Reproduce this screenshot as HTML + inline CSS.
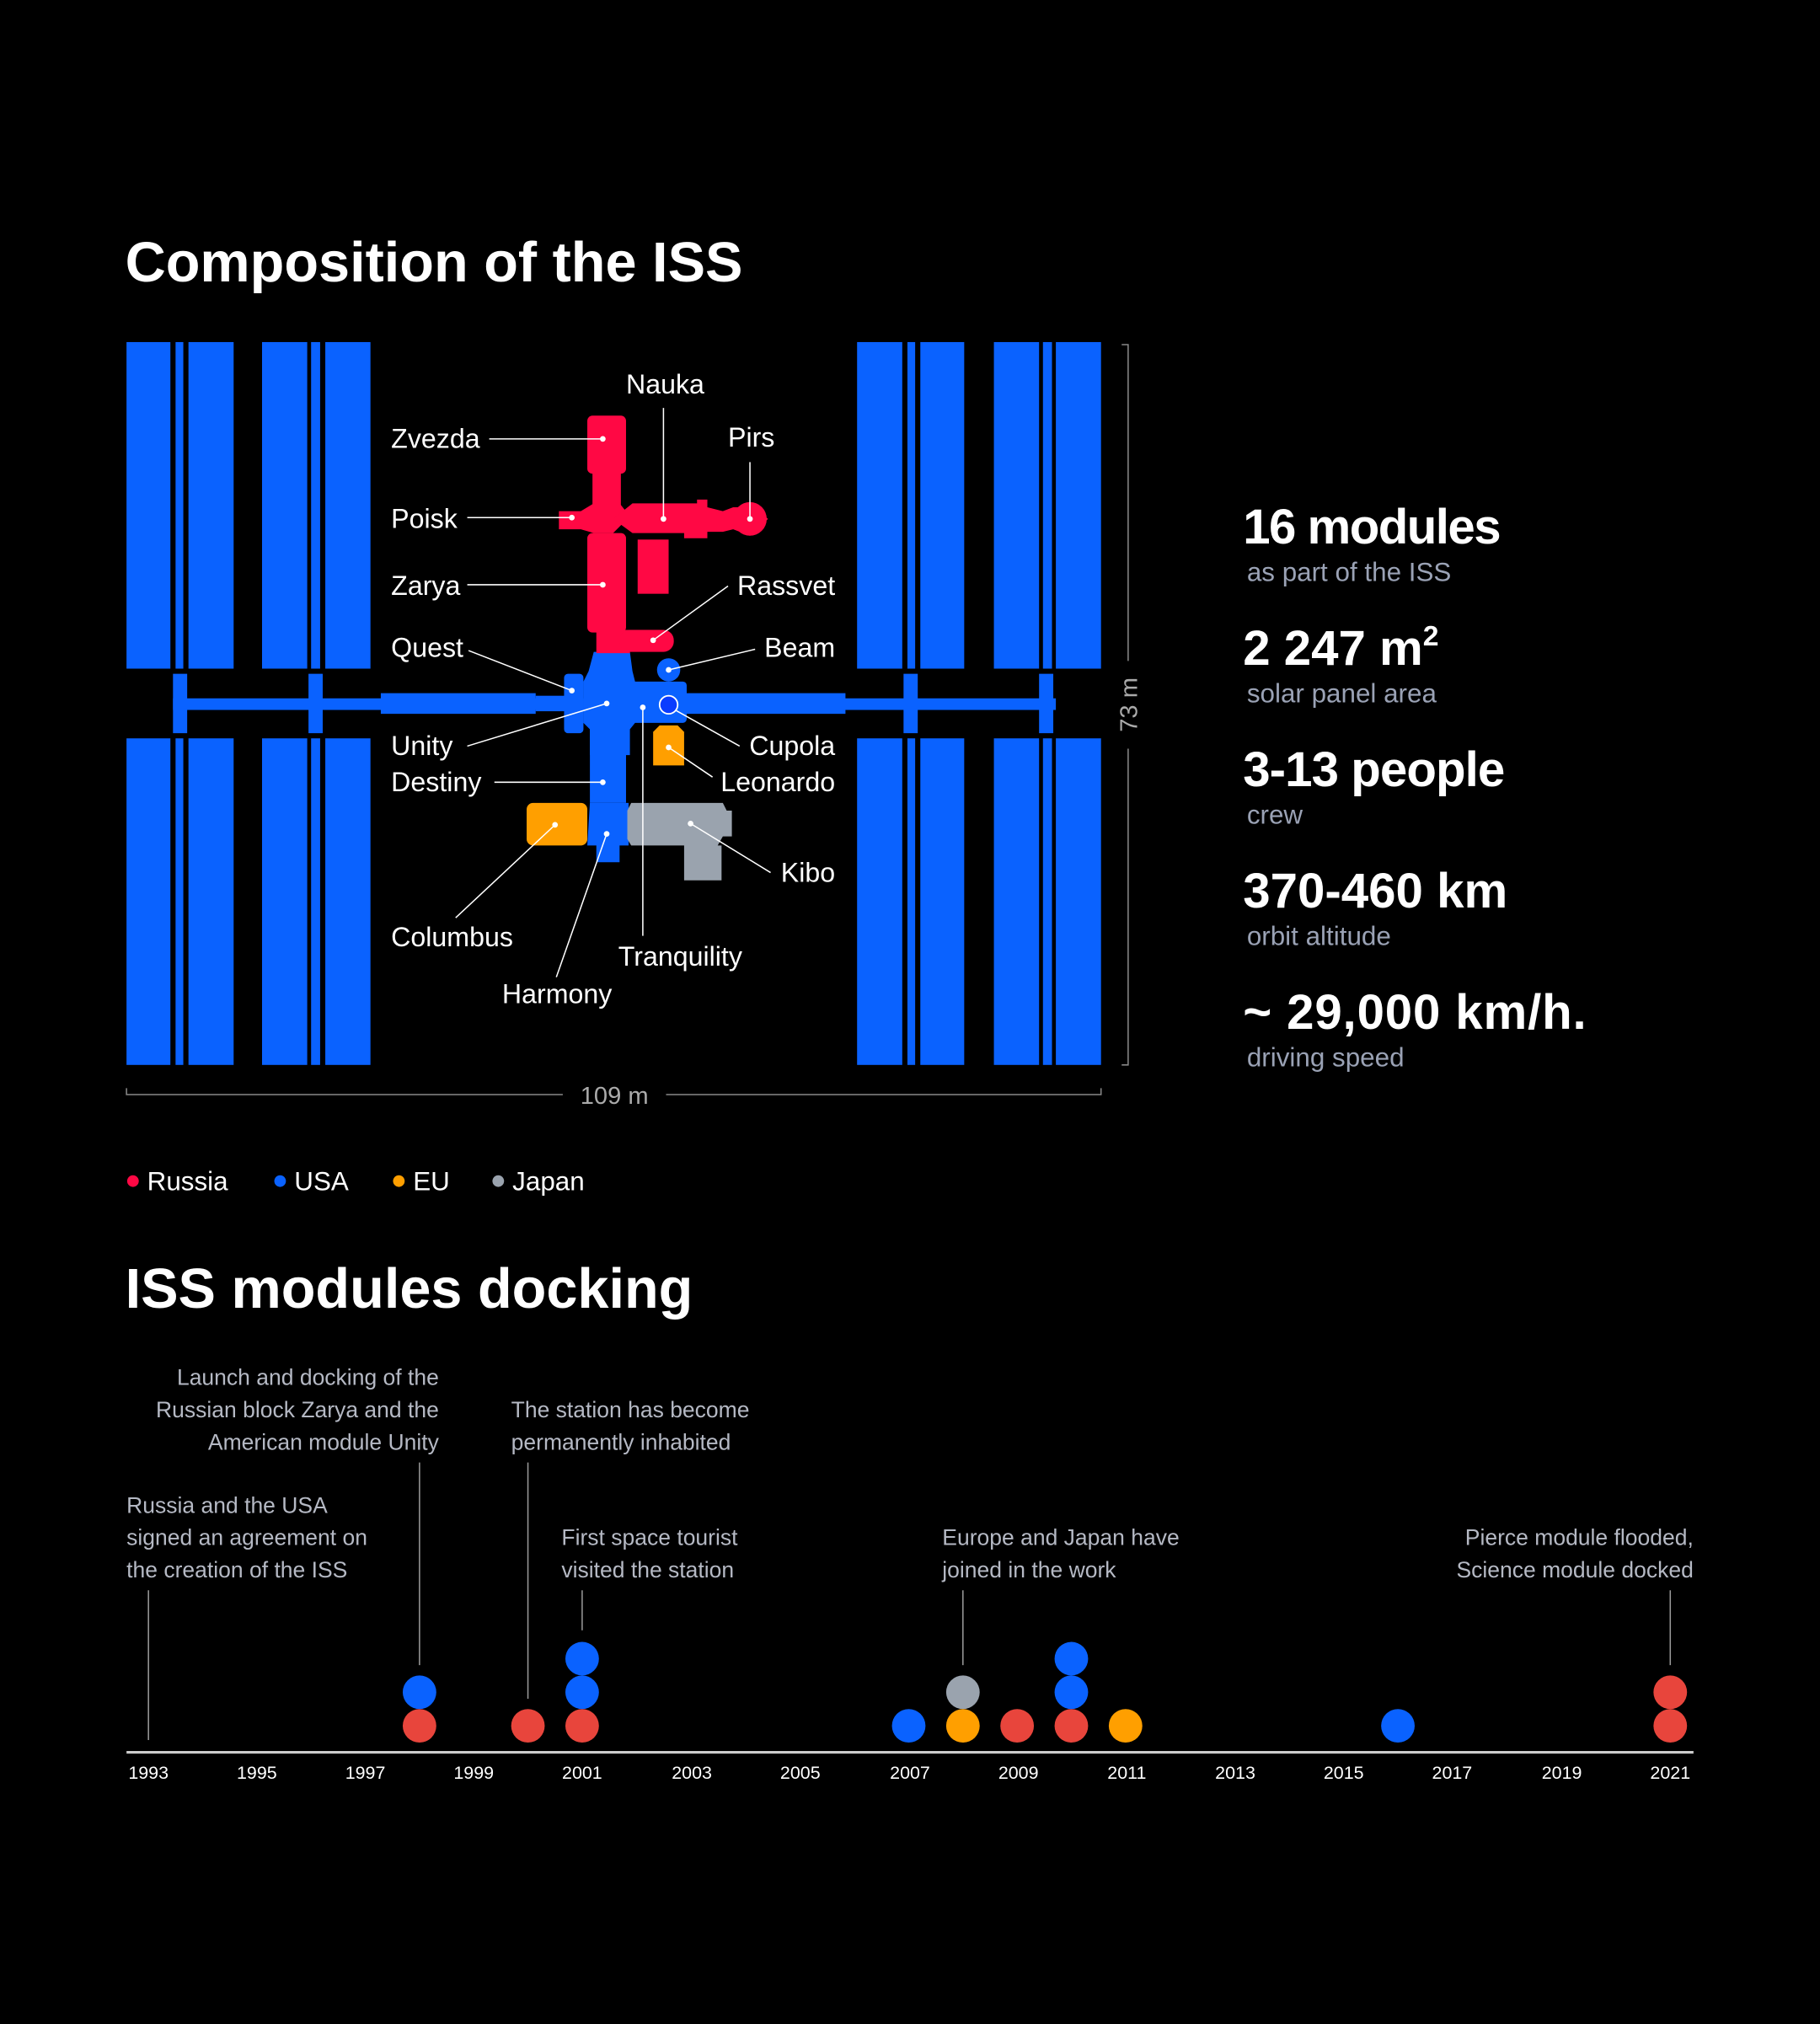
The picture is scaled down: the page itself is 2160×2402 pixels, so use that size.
<!DOCTYPE html>
<html><head><meta charset="utf-8"><style>
html,body{margin:0;padding:0;background:#000;}
svg{display:block;}
text{font-family:"Liberation Sans",sans-serif;}
</style></head><body>
<svg width="2160" height="2402" viewBox="0 0 1410 1568" xmlns="http://www.w3.org/2000/svg">
<rect width="1410" height="1568" fill="#000"/>
<text x="97" y="218" fill="#fff" font-size="43.5" font-weight="bold">Composition of the ISS</text>

<g fill="#0a62ff">
<rect x="98" y="265" width="34" height="253"/><rect x="136" y="265" width="6" height="253"/><rect x="146" y="265" width="35" height="253"/>
<rect x="203" y="265" width="35" height="253"/><rect x="241" y="265" width="7" height="253"/><rect x="252" y="265" width="35" height="253"/>
<rect x="98" y="572" width="34" height="253"/><rect x="136" y="572" width="6" height="253"/><rect x="146" y="572" width="35" height="253"/>
<rect x="203" y="572" width="35" height="253"/><rect x="241" y="572" width="7" height="253"/><rect x="252" y="572" width="35" height="253"/>
<rect x="664" y="265" width="35" height="253"/><rect x="703" y="265" width="6" height="253"/><rect x="713" y="265" width="34" height="253"/>
<rect x="770" y="265" width="35" height="253"/><rect x="808" y="265" width="7" height="253"/><rect x="818" y="265" width="35" height="253"/>
<rect x="664" y="572" width="35" height="253"/><rect x="703" y="572" width="6" height="253"/><rect x="713" y="572" width="34" height="253"/>
<rect x="770" y="572" width="35" height="253"/><rect x="808" y="572" width="7" height="253"/><rect x="818" y="572" width="35" height="253"/>
<rect x="134" y="541" width="684" height="9"/>
<rect x="134" y="522" width="11" height="46"/><rect x="239" y="522" width="11" height="46"/>
<rect x="700" y="522" width="11" height="46"/><rect x="805" y="522" width="11" height="46"/>
<rect x="295" y="537" width="120" height="16"/>
<rect x="415" y="539" width="25" height="12"/>
<rect x="530" y="537" width="125" height="16"/>
<rect x="437" y="522" width="15" height="46" rx="3"/>
<path d="M460 505 H488 L490 520 L492 528 V560 L488 565 V585 H457 V565 L452 560 V528 L456 520 Z"/>
<rect x="487" y="528" width="45" height="32" rx="3"/>
<circle cx="518" cy="519" r="9"/>
<rect x="457" y="562" width="28" height="60"/>
<path d="M457 622 H487 V655 H480 V668 H462 V655 H455 Z"/>
</g>
<circle cx="518" cy="546" r="7" fill="#0a3cff" stroke="#fff" stroke-width="1.2"/>
<g fill="#ff0844">
<rect x="455" y="322" width="30" height="45" rx="4"/>
<rect x="459" y="360" width="22" height="35"/>
<path d="M433 396 H450 L460 390 H480 L488 400 L475 413 H460 L450 410 H433 Z"/>
<path d="M475 402 L490 390 H540 V387 H548 V393 L560 396 L568 393 H572 L581 389 L595 402 L581 415 L568 410 L560 412 H548 V417 H530 V413 H490 Z"/>
<circle cx="581" cy="402" r="13"/>
<rect x="494" y="418" width="24" height="42"/>
<rect x="455" y="413" width="30" height="77" rx="4"/>
<rect x="462" y="488" width="26" height="18"/>
<rect x="480" y="488" width="42" height="17" rx="8"/>
</g>
<path d="M506 567 L511 562 H525 L530 567 V593 H506 Z" fill="#ff9f00"/>
<rect x="408" y="622" width="47" height="33" rx="5" fill="#ff9f00"/>
<path d="M489 622 H560 L563 628 H567 V648 H560 L556 655 H559 V682 H530 V655 H489 L486 650 V628 Z" fill="#9aa3ae"/>

<g stroke="#fff" stroke-width="1" fill="none">
<line x1="379" y1="340" x2="467" y2="340"/>
<line x1="362" y1="401" x2="443" y2="401"/>
<line x1="362" y1="453" x2="467" y2="453"/>
<line x1="363" y1="504" x2="443" y2="535"/>
<line x1="362" y1="578" x2="470" y2="545"/>
<line x1="383" y1="606" x2="467" y2="606"/>
<line x1="353" y1="711" x2="430" y2="639"/>
<line x1="431" y1="757" x2="470" y2="646"/>
<line x1="498" y1="725" x2="498" y2="548"/>
<line x1="514" y1="316" x2="514" y2="402"/>
<line x1="581" y1="358" x2="581" y2="402"/>
<line x1="564" y1="454" x2="506" y2="496"/>
<line x1="585" y1="503" x2="518" y2="519"/>
<line x1="573" y1="578" x2="523" y2="550"/>
<line x1="552" y1="602" x2="518" y2="579"/>
<line x1="597" y1="676" x2="535" y2="638"/>
</g>
<g fill="#fff">
<circle cx="467" cy="340" r="2.2"/><circle cx="443" cy="401" r="2.2"/><circle cx="467" cy="453" r="2.2"/>
<circle cx="443" cy="535" r="2.2"/><circle cx="470" cy="545" r="2.2"/><circle cx="467" cy="606" r="2.2"/>
<circle cx="430" cy="639" r="2.2"/><circle cx="470" cy="646" r="2.2"/><circle cx="498" cy="548" r="2.2"/>
<circle cx="514" cy="402" r="2.2"/><circle cx="581" cy="402" r="2.2"/><circle cx="506" cy="496" r="2.2"/>
<circle cx="518" cy="519" r="2.2"/><circle cx="518" cy="579" r="2.2"/><circle cx="535" cy="638" r="2.2"/>
</g>
<g fill="#fff" font-size="21">
<text x="303" y="347">Zvezda</text>
<text x="303" y="409">Poisk</text>
<text x="303" y="461">Zarya</text>
<text x="303" y="509">Quest</text>
<text x="303" y="585">Unity</text>
<text x="303" y="613">Destiny</text>
<text x="303" y="733">Columbus</text>
<text x="389" y="777">Harmony</text>
<text x="479" y="748">Tranquility</text>
<text x="485" y="305">Nauka</text>
<text x="564" y="346">Pirs</text>
<text x="647" y="461" text-anchor="end">Rassvet</text>
<text x="647" y="509" text-anchor="end">Beam</text>
<text x="647" y="585" text-anchor="end">Cupola</text>
<text x="647" y="613" text-anchor="end">Leonardo</text>
<text x="647" y="683" text-anchor="end">Kibo</text>
</g>

<g stroke="#888" stroke-width="1" fill="none">
<path d="M869 267 H874 V512"/><path d="M874 580 V825 H869"/>
<path d="M98 843 V848 H436"/><path d="M516 848 H853 V843"/>
</g>
<text x="476" y="855" fill="#aaa" font-size="19" text-anchor="middle">109 m</text>
<text transform="translate(881 546) rotate(-90)" fill="#aaa" font-size="19" text-anchor="middle">73 m</text>

<g fill="#fff" font-size="38" font-weight="bold" textLength="">
<text x="963" y="421" textLength="200">16 modules</text>
<text x="963" y="515">2 247 m<tspan font-size="22" dy="-15">2</tspan></text>
<text x="963" y="609" textLength="203">3-13 people</text>
<text x="963" y="703" textLength="205">370-460 km</text>
<text x="963" y="797" textLength="266">~ 29,000 km/h.</text>
</g>
<g fill="#9aa2b5" font-size="20.5">
<text x="966" y="450">as part of the ISS</text>
<text x="966" y="544">solar panel area</text>
<text x="966" y="638">crew</text>
<text x="966" y="732">orbit altitude</text>
<text x="966" y="826">driving speed</text>
</g>

<circle cx="103" cy="915" r="4.5" fill="#ff0844"/><text x="114" y="922" fill="#fff" font-size="20.5">Russia</text>
<circle cx="217" cy="915" r="4.5" fill="#0a62ff"/><text x="228" y="922" fill="#fff" font-size="20.5">USA</text>
<circle cx="309" cy="915" r="4.5" fill="#ff9f00"/><text x="320" y="922" fill="#fff" font-size="20.5">EU</text>
<circle cx="386" cy="915" r="4.5" fill="#9aa3ae"/><text x="397" y="922" fill="#fff" font-size="20.5">Japan</text>

<text x="97" y="1013" fill="#fff" font-size="43.5" font-weight="bold">ISS modules docking</text>

<g fill="#b5b9c4" font-size="17.3">
<text x="98" y="1172">Russia and the USA</text>
<text x="98" y="1197">signed an agreement on</text>
<text x="98" y="1222">the creation of the ISS</text>
<text x="340" y="1073" text-anchor="end">Launch and docking of the</text>
<text x="340" y="1098" text-anchor="end">Russian block Zarya and the</text>
<text x="340" y="1123" text-anchor="end">American module Unity</text>
<text x="396" y="1098">The station has become</text>
<text x="396" y="1123">permanently inhabited</text>
<text x="435" y="1197">First space tourist</text>
<text x="435" y="1222">visited the station</text>
<text x="730" y="1197">Europe and Japan have</text>
<text x="730" y="1222">joined in the work</text>
<text x="1312" y="1197" text-anchor="end">Pierce module flooded,</text>
<text x="1312" y="1222" text-anchor="end">Science module docked</text>
</g>
<g stroke="#999" stroke-width="1">
<line x1="115" y1="1232" x2="115" y2="1348"/>
<line x1="325" y1="1133" x2="325" y2="1290"/>
<line x1="409" y1="1133" x2="409" y2="1316"/>
<line x1="451" y1="1232" x2="451" y2="1263"/>
<line x1="746" y1="1232" x2="746" y2="1290"/>
<line x1="1294" y1="1232" x2="1294" y2="1290"/>
</g>
<g>
<circle cx="325" cy="1337" r="13" fill="#e8453c"/><circle cx="325" cy="1311" r="13" fill="#0a62ff"/>
<circle cx="409" cy="1337" r="13" fill="#e8453c"/>
<circle cx="451" cy="1337" r="13" fill="#e8453c"/><circle cx="451" cy="1311" r="13" fill="#0a62ff"/><circle cx="451" cy="1285" r="13" fill="#0a62ff"/>
<circle cx="704" cy="1337" r="13" fill="#0a62ff"/>
<circle cx="746" cy="1337" r="13" fill="#ff9f00"/><circle cx="746" cy="1311" r="13" fill="#9aa3ae"/>
<circle cx="788" cy="1337" r="13" fill="#e8453c"/>
<circle cx="830" cy="1337" r="13" fill="#e8453c"/><circle cx="830" cy="1311" r="13" fill="#0a62ff"/><circle cx="830" cy="1285" r="13" fill="#0a62ff"/>
<circle cx="872" cy="1337" r="13" fill="#ff9f00"/>
<circle cx="1083" cy="1337" r="13" fill="#0a62ff"/>
<circle cx="1294" cy="1337" r="13" fill="#e8453c"/><circle cx="1294" cy="1311" r="13" fill="#e8453c"/>
</g>
<line x1="98" y1="1357.5" x2="1312" y2="1357.5" stroke="#ccc" stroke-width="2"/>
<g fill="#fff" font-size="14" text-anchor="middle">
<text x="115" y="1378">1993</text><text x="199" y="1378">1995</text><text x="283" y="1378">1997</text>
<text x="367" y="1378">1999</text><text x="451" y="1378">2001</text><text x="536" y="1378">2003</text>
<text x="620" y="1378">2005</text><text x="705" y="1378">2007</text><text x="789" y="1378">2009</text>
<text x="873" y="1378">2011</text><text x="957" y="1378">2013</text><text x="1041" y="1378">2015</text>
<text x="1125" y="1378">2017</text><text x="1210" y="1378">2019</text><text x="1294" y="1378">2021</text>
</g>
</svg>
</body></html>
